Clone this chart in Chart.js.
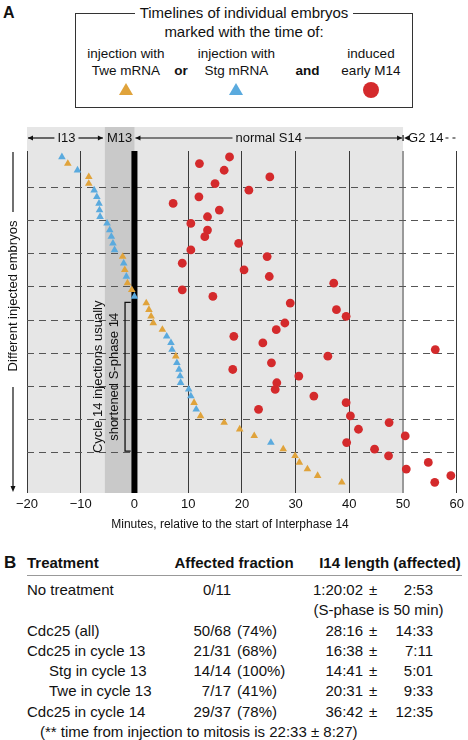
<!DOCTYPE html>
<html>
<head>
<meta charset="utf-8">
<script src="https://cdn.jsdelivr.net/npm/chart.js@4.4.1/dist/chart.umd.min.js"></script>
<style>
body { margin: 0; background: #fff; }
#fig { position: relative; width: 468px; height: 740px; overflow: hidden; font-family: "Liberation Sans", Arial, sans-serif; color: #111; }
#fig span { position: absolute; white-space: nowrap; height: 20px; line-height: 20px; }
#box { position: absolute; left: 75px; top: 13px; width: 338px; height: 95px; border: 1.5px solid #333; box-sizing: border-box; }
.mk { position: absolute; }
#plot { position: absolute; left: 0; top: 120px; }
#rule { position: absolute; left: 27px; top: 575px; width: 435px; height: 1px; background: #999; }
</style>
</head>
<body>
<div id="fig">
  <div id="box"></div>
  <div class="mk" style="left:119px;top:83px;width:14px;height:12px;background:#e0a33b;clip-path:polygon(50% 0,100% 100%,0 100%)"></div>
  <div class="mk" style="left:229px;top:83px;width:14px;height:12px;background:#5aaade;clip-path:polygon(50% 0,100% 100%,0 100%)"></div>
  <div class="mk" style="left:363px;top:82px;width:16px;height:16px;border-radius:50%;background:#d42a2c"></div>
  <canvas id="plot" width="468" height="420"></canvas>
  <div id="rule"></div>
</div>
<script>
// minutes relative to start of interphase 14, one entry per embryo (top to bottom)
const injTimes = [-13.5, -12.4, -10.6, -8.5, -8.5, -7.5, -7.0, -6.6, -6.5, -6.4,
                  -5.1, -4.6, -4.3, -4.0, -3.7, -2.2, -2.0, -1.8, -1.5, -1.3,
                  -0.5, 0.0, 2.2, 2.7, 3.1, 3.5, 5.2, 6.0, 6.8, 7.0,
                  7.7, 7.9, 8.3, 8.5, 8.6, 10.1, 10.5, 11.1, 11.5, 12.3,
                  16.7, 19.6, 22.3, 25.4, 27.7, 29.9, 30.7, 32.2, 34.1, 38.6]
// T = Twe mRNA, S = Stg mRNA
const injKinds = ['S','T','S','T','T','S','S','S','S','S',
                  'S','S','S','S','S','T','S','T','S','T',
                  'T','S','T','T','T','T','T','S','S','S',
                  'T','S','S','S','S','S','S','T','S','T',
                  'T','T','T','S','T','T','T','T','T','T']
const m14Times = [17.7, 12.1, 16.7, 25.2, 15.0, 21.3, 12.0, 7.2, 15.8, 13.6,
                  10.5, 13.6, 13.1, 19.4, 10.5, 24.7, 8.9, 20.4, 25.1, 37.1,
                  8.9, 14.6, 29.0, 37.6, 39.4, 28.0, 26.4, 18.5, 23.9, 56.0,
                  36.0, 25.5, 18.3, 30.6, 26.5, 26.2, 33.4, 39.4, 23.1, 40.2,
                  47.4, 41.7, 50.4, 39.5, 44.7, 47.3, 54.7, 50.6, 58.9, 55.9]
const xTicks = [-20, -10, 0, 10, 20, 30, 40, 50, 60]
const m13Start = -5.5
const s14End = 50
const groupSize = 5

const twe = '#e0a33b'
const stg = '#5aaade'
const red = '#d42a2c'
const fontName = '"Liberation Sans", Arial, sans-serif'

const fig = document.getElementById('fig')
function txt(s, x, y, align, size, bold) {
    const el = document.createElement('span')
    el.textContent = s
    el.style.top = (y - 10) + 'px'
    el.style.fontSize = size + 'px'
    if (bold) el.style.fontWeight = 'bold'
    if (align == 'l') el.style.left = x + 'px'
    else if (align == 'r') el.style.right = (468 - x) + 'px'
    else { el.style.left = (x - 150) + 'px'; el.style.width = '300px'; el.style.textAlign = 'center' }
    fig.appendChild(el)
    return el
}

// panel A legend
txt('A', 3, 13, 'l', 16, true)
const title = txt('', 244, 13, 'c', 15)
title.innerHTML = '<i style="font-style:normal;background:#fff;padding:0 5px">Timelines of individual embryos</i>'
txt('marked with the time of:', 244, 31.5, 'c', 15)
txt('injection with', 126, 54, 'c', 13.5)
txt('Twe mRNA', 126, 71, 'c', 13.5)
txt('or', 181, 71, 'c', 13.5, true)
txt('injection with', 236.5, 54, 'c', 13.5)
txt('Stg mRNA', 236.5, 71, 'c', 13.5)
txt('and', 307.5, 71, 'c', 13.5, true)
txt('induced', 371, 54, 'c', 13.5)
txt('early M14', 371, 71, 'c', 13.5)

// panel B table
txt('B', 4, 563, 'l', 17, true)
txt('Treatment', 27, 563, 'l', 15, true)
txt('Affected fraction', 234, 563, 'c', 15, true)
txt('I14 length (affected)', 390, 563, 'c', 15, true)
const rowsB = [
    ['No treatment', 27, '0/11', '', '1:20:02', '2:53'],
    ['Cdc25 (all)', 27, '50/68', '(74%)', '28:16', '14:33'],
    ['Cdc25 in cycle 13', 27, '21/31', '(68%)', '16:38', '7:11'],
    ['Stg in cycle 13', 49, '14/14', '(100%)', '14:41', '5:01'],
    ['Twe in cycle 13', 49, '7/17', '(41%)', '20:31', '9:33'],
    ['Cdc25 in cycle 14', 27, '29/37', '(78%)', '36:42', '12:35']
]
const rowY = [590, 630.5, 650.8, 671, 691.3, 711.5]
rowsB.forEach((r, i) => {
    const y = rowY[i]
    txt(r[0], r[1], y, 'l', 15)
    txt(r[2], 231, y, 'r', 15)
    if (r[3]) txt(r[3], 237, y, 'l', 15)
    txt(r[4], 363, y, 'r', 15)
    txt('\u00b1', 373, y, 'c', 15)
    txt(r[5], 433, y, 'r', 15)
})
txt('(S-phase is 50 min)', 378.5, 610.3, 'c', 15)
txt('(** time from injection to mitosis is 22:33 \u00b1 8:27)', 40, 731.8, 'l', 15)

// datasets
const tweData = [], stgData = [], m14Data = []
injTimes.forEach((v, i) => {
    if (injKinds[i] == 'T') tweData.push({ x: v, y: i })
    else stgData.push({ x: v, y: i })
})
m14Times.forEach((v, i) => m14Data.push({ x: v, y: i }))

function head(ctx, x, y, dir) {
    ctx.beginPath()
    ctx.moveTo(x, y)
    ctx.lineTo(x - dir * 5, y - 2.5)
    ctx.lineTo(x - dir * 5, y + 2.5)
    ctx.closePath()
    ctx.fill()
}
function hline(ctx, x1, x2, y) {
    ctx.beginPath(); ctx.moveTo(x1, y); ctx.lineTo(x2, y); ctx.stroke()
}

const deco = {
    id: 'deco',
    beforeDraw(chart) {
        const { ctx, chartArea: a, scales: { x } } = chart
        const top = a.top - 24
        ctx.save()
        ctx.fillStyle = '#e6e6e6'
        ctx.fillRect(a.left, top, x.getPixelForValue(s14End) - a.left, a.bottom - top)
        const m0 = x.getPixelForValue(m13Start)
        ctx.fillStyle = '#c9c9c9'
        ctx.fillRect(m0, top, x.getPixelForValue(0) - m0, a.bottom - top)
        ctx.restore()
    },
    beforeDatasetsDraw(chart) {
        const { ctx, chartArea: a, scales: { x, y } } = chart
        ctx.save()
        // dashed separators every 5 embryos
        ctx.strokeStyle = '#555'
        ctx.lineWidth = 1
        ctx.setLineDash([7, 5])
        for (let r = groupSize; r < m14Times.length; r += groupSize) {
            const py = Math.round(y.getPixelForValue(r - 0.5)) + 0.5
            hline(ctx, a.left, a.right, py)
        }
        ctx.setLineDash([])
        // start of interphase 14
        ctx.fillStyle = '#000'
        const p0 = x.getPixelForValue(0)
        ctx.fillRect(p0 - 3, a.top, 6, a.bottom - a.top)
        ctx.restore()
    },
    afterDraw(chart) {
        const { ctx, chartArea: a, scales: { x, y } } = chart
        ctx.save()
        ctx.fillStyle = '#111'
        ctx.strokeStyle = '#111'
        ctx.lineWidth = 1.2
        ctx.font = '13px ' + fontName
        ctx.textBaseline = 'middle'
        ctx.textAlign = 'center'

        // phase header
        const hy = a.top - 13
        const xa = a.left + 1, xm = x.getPixelForValue(m13Start), x0 = x.getPixelForValue(0), x50 = x.getPixelForValue(s14End)
        let cx = (xa + xm) / 2, w = ctx.measureText('I13').width / 2 + 3
        ctx.fillText('I13', cx, hy)
        hline(ctx, xa, cx - w, hy); head(ctx, xa, hy, -1)
        hline(ctx, cx + w, xm - 2, hy); head(ctx, xm - 2, hy, 1)
        ctx.fillText('M13', (xm + x0) / 2, hy)
        cx = (x0 + x50) / 2; w = ctx.measureText('normal S14').width / 2 + 3
        ctx.fillText('normal S14', cx, hy)
        hline(ctx, x0 + 1, cx - w, hy); head(ctx, x0 + 1, hy, -1)
        hline(ctx, cx + w, x50 - 1, hy); head(ctx, x50 - 1, hy, 1)
        ctx.beginPath(); ctx.moveTo(x50, hy - 3); ctx.lineTo(x50, hy + 3); ctx.stroke()
        head(ctx, x50 + 1, hy, -1)
        ctx.textAlign = 'left'
        ctx.fillText('G2 14', x50 + 5, hy)
        const gEnd = x50 + 5 + ctx.measureText('G2 14').width + 2
        ctx.setLineDash([3, 4])
        hline(ctx, gEnd, a.right + 2, hy)
        ctx.setLineDash([])

        // x title
        ctx.textAlign = 'center'
        ctx.font = '12px ' + fontName
        ctx.fillText('Minutes, relative to the start of Interphase 14', 230, a.bottom + 32)

        // y label with arrow
        ctx.font = '13px ' + fontName
        const ly = 13
        ctx.beginPath(); ctx.moveTo(ly, a.top + 1); ctx.lineTo(ly, a.top + 61); ctx.stroke()
        ctx.beginPath(); ctx.moveTo(ly, a.top + 236); ctx.lineTo(ly, a.bottom - 6); ctx.stroke()
        ctx.beginPath()
        ctx.moveTo(ly, a.bottom - 1); ctx.lineTo(ly - 2.5, a.bottom - 7); ctx.lineTo(ly + 2.5, a.bottom - 7)
        ctx.closePath(); ctx.fill()
        ctx.translate(ly, a.top + 145)
        ctx.rotate(-Math.PI / 2)
        ctx.fillText('Different injected embryos', 0, 0)
        ctx.setTransform(1, 0, 0, 1, 0, 0)

        // bracket for cycle 14 injections
        const bx = x.getPixelForValue(-1.75), bt = y.getPixelForValue(21.9), bb = y.getPixelForValue(44.3)
        const bk = x.getPixelForValue(-0.7)
        ctx.lineWidth = 1.3
        ctx.beginPath()
        ctx.moveTo(bk, bt); ctx.lineTo(bx, bt); ctx.lineTo(bx, bb); ctx.lineTo(bk, bb)
        ctx.stroke()
        const bc = (bt + bb) / 2
        ctx.translate(bx - 26.5, bc)
        ctx.rotate(-Math.PI / 2)
        ctx.fillText('Cycle 14 injections usually', 0, 0)
        ctx.setTransform(1, 0, 0, 1, 0, 0)
        ctx.translate(bx - 11, bc)
        ctx.rotate(-Math.PI / 2)
        ctx.fillText('shortened S-phase 14', 0, 0)
        ctx.restore()
    }
}

new Chart(document.getElementById('plot'), {
    type: 'scatter',
    data: {
        datasets: [
            { label: 'Twe mRNA', data: tweData, pointStyle: 'triangle', pointRadius: 4.4, backgroundColor: twe, borderWidth: 0 },
            { label: 'Stg mRNA', data: stgData, pointStyle: 'triangle', pointRadius: 4.4, backgroundColor: stg, borderWidth: 0 },
            { label: 'early M14', data: m14Data, pointStyle: 'circle', pointRadius: 4.4, backgroundColor: red, borderWidth: 0 }
        ]
    },
    options: {
        responsive: false,
        animation: false,
        devicePixelRatio: 1,
        layout: { padding: { top: 31, right: 9, left: 27, bottom: 0 } },
        plugins: { legend: { display: false }, tooltip: { enabled: false } },
        scales: {
            x: {
                type: 'linear', min: -20, max: 60,
                afterBuildTicks: s => { s.ticks = xTicks.map(v => ({ value: v })) },
                ticks: {
                    padding: 4, color: '#111',
                    font: { family: fontName, size: 13 },
                    callback: v => v < 0 ? '\u2212' + Math.abs(v) : '' + v
                },
                grid: {
                    drawTicks: false,
                    color: c => c.tick && c.tick.value == s14End ? '#9a9a9a' : '#3a3a3a',
                    lineWidth: c => c.tick && c.tick.value == s14End ? 2 : 1
                },
                border: { display: false },
                afterFit: s => { s.height = 47 }
            },
            y: { type: 'linear', reverse: true, min: -0.9, max: 50.6, display: false }
        }
    },
    plugins: [deco]
})
</script>
</body>
</html>
